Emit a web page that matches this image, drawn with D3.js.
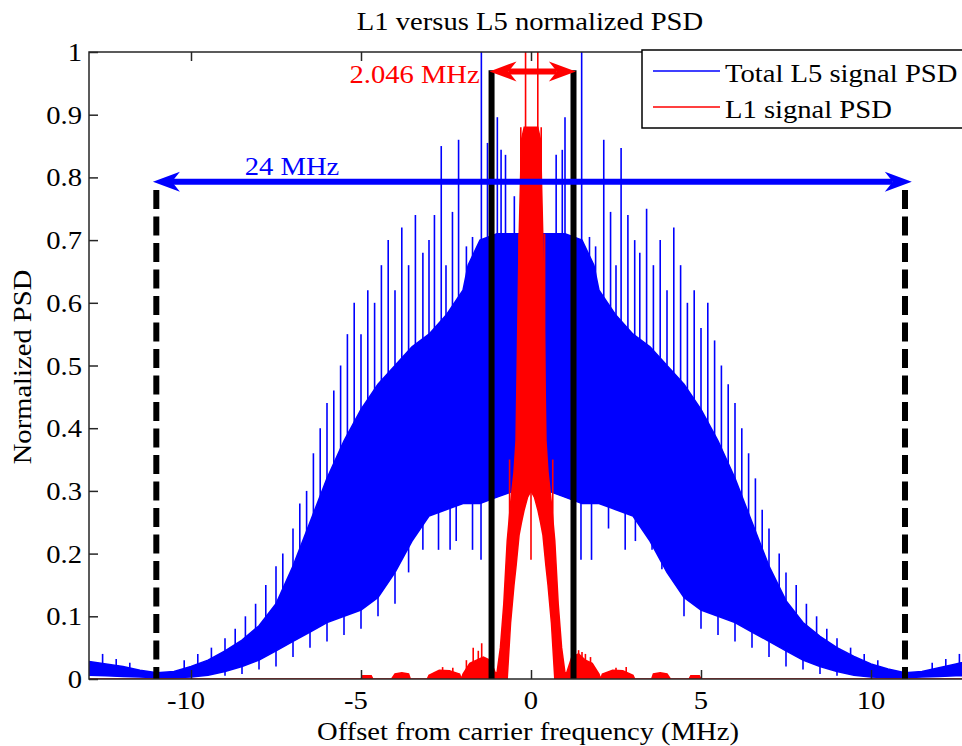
<!DOCTYPE html>
<html>
<head>
<meta charset="utf-8">
<script src="https://cdn.jsdelivr.net/npm/d3@7"></script>
<style>
body { margin: 0; background: #fff; }
text { font-family: "Liberation Serif", "Times New Roman", serif; font-size: 26px; }
</style>
</head>
<body>
<svg id="chart"></svg>
<script>
var xTicks = [-10, -5, 0, 5, 10];
var yTicks = [0, 0.1, 0.2, 0.3, 0.4, 0.5, 0.6, 0.7, 0.8, 0.9, 1];

// total L5 PSD: dense band (lower / upper edge of the solid blue)
var blueFreq  = [-13, -12.5, -12, -11.5, -11, -10.5, -10, -9.5, -9, -8.5, -8, -7.5, -7, -6.5, -6, -5.5, -5, -4.5, -4, -3.5, -3, -2.5, -2, -1.85, -1.5, -1, -0.5, 0,
                 0.5, 1, 1.5, 1.85, 2, 2.5, 3, 3.5, 4, 4.5, 5, 5.5, 6, 6.5, 7, 7.5, 8, 8.5, 9, 9.5, 10, 10.5, 11, 11.5, 12, 12.5, 13];
var blueUpper = [0.028, 0.024, 0.02, 0.014, 0.01, 0.012, 0.02, 0.03, 0.045, 0.062, 0.085, 0.12, 0.18, 0.25, 0.32, 0.38, 0.43, 0.47, 0.5, 0.53, 0.55, 0.58, 0.62, 0.66, 0.7, 0.71, 0.71, 0.71,
                 0.71, 0.71, 0.7, 0.66, 0.62, 0.58, 0.55, 0.53, 0.5, 0.47, 0.43, 0.38, 0.32, 0.25, 0.18, 0.125, 0.09, 0.068, 0.05, 0.036, 0.024, 0.016, 0.01, 0.012, 0.018, 0.024, 0.03];
var blueLower = [0.006, 0.005, 0.004, 0.003, 0.002, 0.002, 0.003, 0.006, 0.012, 0.02, 0.03, 0.045, 0.06, 0.075, 0.09, 0.1, 0.11, 0.13, 0.17, 0.22, 0.26, 0.27, 0.28, 0.28, 0.28, 0.29, 0.3, 0.3,
                 0.3, 0.29, 0.28, 0.28, 0.28, 0.27, 0.26, 0.22, 0.17, 0.13, 0.11, 0.1, 0.09, 0.075, 0.06, 0.045, 0.03, 0.02, 0.012, 0.006, 0.003, 0.002, 0.002, 0.003, 0.004, 0.005, 0.006];

// single spectral lines sticking out of the band (freq, bottom, top)
var blueSpikeFreq = [-12.6, -12.2, -11.8, -10.2, -9.8, -9.4, -9.0, -8.7, -8.4, -8.1, -7.8, -7.5, -7.3, -7.0, -6.8, -6.6, -6.4, -6.2, -6.0, -5.8, -5.6, -5.4, -5.2, -5.0, -4.8, -4.6, -4.4, -4.2, -4.0, -3.8, -3.6, -3.4, -3.18, -3.0, -2.84, -2.64, -2.5, -2.31, -2.13, -1.9, -1.72, -1.46, -1.28, -0.99, -0.88, -0.75, -0.49,
                     -9.0, -8.5, -8.0, -7.5, -7.0, -6.5, -6.0, -5.5, -5.0, -4.5, -4.0, -3.6, -3.18, -2.72, -2.38, -2.2, -1.72, -1.47,
                     0.74, 0.92, 1.0, 1.28, 1.49, 1.72, 1.9, 2.14, 2.34, 2.5, 2.65, 2.85, 3.05, 3.2, 3.4, 3.6, 3.8, 4.0, 4.2, 4.4, 4.6, 4.8, 5.0, 5.2, 5.4, 5.6, 5.8, 6.0, 6.2, 6.4, 6.6, 6.8, 7.0, 7.3, 7.5, 7.8, 8.1, 8.4, 8.7, 9.0, 9.4, 9.8, 10.2, 11.8, 12.2, 12.6,
                     1.47, 1.78, 2.28, 2.77, 3.07, 3.56, 3.85, 4.5, 5.0, 5.5, 6.0, 6.5, 7.0, 7.5, 8.0, 8.5, 9.0];
var blueSpikeLow  = [0.01, 0.008, 0.005, 0.005, 0.01, 0.02, 0.03, 0.04, 0.05, 0.06, 0.08, 0.1, 0.12, 0.15, 0.18, 0.2, 0.25, 0.28, 0.3, 0.33, 0.35, 0.38, 0.4, 0.42, 0.43, 0.45, 0.46, 0.48, 0.5, 0.5, 0.5, 0.52, 0.52, 0.53, 0.55, 0.55, 0.55, 0.55, 0.55, 0.6, 0.6, 0.6, 0.6, 0.6, 0.6, 0.6, 0.6,
                     0.005, 0.008, 0.015, 0.02, 0.035, 0.05, 0.06, 0.07, 0.08, 0.1, 0.12, 0.17, 0.206, 0.206, 0.206, 0.22, 0.206, 0.19,
                     0.6, 0.6, 0.6, 0.6, 0.6, 0.6, 0.6, 0.55, 0.55, 0.55, 0.55, 0.55, 0.53, 0.52, 0.52, 0.5, 0.5, 0.5, 0.48, 0.46, 0.45, 0.43, 0.42, 0.4, 0.38, 0.35, 0.33, 0.3, 0.28, 0.25, 0.2, 0.18, 0.15, 0.12, 0.1, 0.08, 0.06, 0.05, 0.04, 0.03, 0.02, 0.01, 0.005, 0.005, 0.008, 0.01,
                     0.19, 0.19, 0.24, 0.206, 0.22, 0.206, 0.175, 0.1, 0.08, 0.07, 0.06, 0.05, 0.035, 0.02, 0.015, 0.008, 0.005];
var blueSpikeHigh = [0.04, 0.032, 0.026, 0.03, 0.04, 0.05, 0.065, 0.08, 0.1, 0.12, 0.15, 0.18, 0.2, 0.24, 0.28, 0.3, 0.36, 0.4, 0.44, 0.46, 0.5, 0.55, 0.6, 0.55, 0.62, 0.6, 0.66, 0.7, 0.62, 0.72, 0.66, 0.74, 0.68, 0.7, 0.74, 0.85, 0.66, 0.745, 0.86, 0.69, 0.705, 1.0, 0.855, 0.896, 0.844, 0.836, 0.77,
                     0.015, 0.02, 0.035, 0.05, 0.06, 0.08, 0.1, 0.1, 0.12, 0.14, 0.17, 0.22, 0.3, 0.3, 0.3, 0.3, 0.3, 0.3,
                     0.836, 0.844, 0.896, 0.855, 1.0, 0.705, 0.69, 0.86, 0.745, 0.66, 0.847, 0.74, 0.7, 0.68, 0.75, 0.66, 0.7, 0.62, 0.72, 0.66, 0.6, 0.62, 0.56, 0.6, 0.54, 0.5, 0.47, 0.44, 0.4, 0.36, 0.32, 0.27, 0.24, 0.2, 0.17, 0.15, 0.12, 0.1, 0.08, 0.065, 0.05, 0.04, 0.03, 0.026, 0.032, 0.04,
                     0.3, 0.3, 0.3, 0.3, 0.3, 0.3, 0.3, 0.14, 0.12, 0.1, 0.1, 0.08, 0.06, 0.05, 0.035, 0.02, 0.015];

// L1 (C/A) PSD
var redFreq  = [-13, -5.0, -4.95, -4.7, -4.65, -4.1, -4.0, -3.8, -3.6, -3.55, -3.05, -3.0, -2.7, -2.4, -2.1, -2.05, -2.0, -1.8, -1.6, -1.4, -1.2, -1.05, -1.0, -0.9, -0.8, -0.7, -0.6, -0.5, -0.44, -0.35, -0.28, -0.2, -0.1, 0,
                0.1, 0.2, 0.28, 0.35, 0.44, 0.5, 0.6, 0.7, 0.8, 0.9, 1.0, 1.05, 1.2, 1.4, 1.6, 1.8, 2.0, 2.05, 2.1, 2.4, 2.7, 3.0, 3.05, 3.55, 3.6, 3.8, 4.0, 4.1, 4.65, 4.7, 4.95, 5.0, 13];
var redUpper = [0, 0, 0.005, 0.005, 0, 0, 0.008, 0.01, 0.008, 0, 0, 0.006, 0.014, 0.013, 0.008, 0, 0.008, 0.025, 0.03, 0.035, 0.03, 0.01, 0.01, 0.05, 0.12, 0.22, 0.28, 0.33, 0.38, 0.7, 0.86, 0.88, 0.88, 0.88,
                0.88, 0.88, 0.86, 0.7, 0.38, 0.33, 0.28, 0.22, 0.12, 0.05, 0.01, 0.01, 0.035, 0.04, 0.03, 0.025, 0.008, 0, 0.008, 0.014, 0.013, 0.006, 0, 0, 0.008, 0.01, 0.008, 0, 0, 0.005, 0.005, 0, 0];
var redLower = [0, 0, 0, 0, 0, 0, 0, 0, 0, 0, 0, 0, 0, 0, 0, 0, 0, 0, 0, 0, 0, 0, 0, 0, 0, 0, 0.09, 0.15, 0.18, 0.23, 0.25, 0.27, 0.29, 0.3,
                0.29, 0.27, 0.25, 0.23, 0.18, 0.15, 0.09, 0, 0, 0, 0, 0, 0, 0, 0, 0, 0, 0, 0, 0, 0, 0, 0, 0, 0, 0, 0, 0, 0, 0, 0, 0, 0];
var redSpikeFreq = [-2.6, -2.3, -1.9, -1.7, -1.55, -1.45, -0.63, -0.35, -0.3, -0.16, 0, 0.2, 0.3, 0.4, 0.64, 1.4, 1.5, 1.6, 1.75, 2.5, 2.8];
var redSpikeLow  = [0, 0, 0, 0, 0, 0, 0.2, 0.4, 0.4, 0.3, 0.19, 0.3, 0.4, 0.4, 0.2, 0, 0, 0, 0, 0, 0];
var redSpikeHigh = [0.019, 0.018, 0.03, 0.05, 0.045, 0.057, 0.35, 0.71, 0.88, 1.0, 0.3, 1.0, 0.88, 0.71, 0.35, 0.046, 0.043, 0.04, 0.035, 0.018, 0.019];

// annotations (MHz / PSD units)
var bandEdges = [-1.16, 1.25];
var spanEdges = [-11.02, 11.0];
var bandArrow = [-1.22, 1.32], bandArrowY = 0.969, bandTop = 0.971;
var spanArrow = [-11.12, 11.2], spanArrowY = 0.793, spanTop = 0.78;

var svgWidth = 962, svgHeight = 746;
var plotLeft = 89, plotTop = 52, plotRight = 973, plotBottom = 679;
var sx = 1.1; // horizontal stretch of the text in the picture

var svg = d3.select('#chart').attr('width', svgWidth).attr('height', svgHeight);

var x = d3.scaleLinear().domain([-13, 13]).range([plotLeft, plotRight]);
var y = d3.scaleLinear().domain([0, 1]).range([plotBottom, plotTop]);

svg.append('clipPath').attr('id', 'plotclip')
  .append('rect').attr('x', plotLeft).attr('y', plotTop).attr('width', plotRight - plotLeft).attr('height', plotBottom - plotTop);

var plot = svg.append('g').attr('clip-path', 'url(#plotclip)');

function band(freq, lo, hi) {
  return d3.area()
    .x(function(d, i) { return x(freq[i]); })
    .y0(function(d, i) { return y(lo[i]); })
    .y1(function(d, i) { return y(hi[i]); })(freq);
}

function spikes(g, cls, freq, lo, hi, color) {
  g.selectAll('.' + cls).data(freq).enter().append('line')
    .attr('class', cls)
    .attr('x1', function(d) { return x(d); }).attr('x2', function(d) { return x(d); })
    .attr('y1', function(d, i) { return y(lo[i]); })
    .attr('y2', function(d, i) { return y(hi[i]); })
    .attr('stroke', color).attr('stroke-width', 1.6);
}

plot.append('path').attr('d', band(blueFreq, blueLower, blueUpper))
  .attr('fill', '#0000ff').attr('stroke', '#0000ff').attr('stroke-width', 1.5);
spikes(plot, 'bspike', blueSpikeFreq, blueSpikeLow, blueSpikeHigh, '#0000ff');

plot.append('path').attr('d', band(redFreq, redLower, redUpper))
  .attr('fill', '#ff0000').attr('stroke', '#ff0000').attr('stroke-width', 1.5);
spikes(plot, 'rspike', redSpikeFreq, redSpikeLow, redSpikeHigh, '#ff0000');

// black markers
plot.selectAll('.edge').data(bandEdges).enter().append('line')
  .attr('x1', function(d) { return x(d); }).attr('x2', function(d) { return x(d); })
  .attr('y1', y(bandTop)).attr('y2', y(0))
  .attr('stroke', '#000').attr('stroke-width', 6);

plot.selectAll('.span').data(spanEdges).enter().append('line')
  .attr('x1', function(d) { return x(d); }).attr('x2', function(d) { return x(d); })
  .attr('y1', y(spanTop)).attr('y2', y(0))
  .attr('stroke', '#000').attr('stroke-width', 6).attr('stroke-dasharray', '19,7.5');

function doubleArrow(g, x0, x1, yy, color) {
  var L = 27, H = 10, N = 19;
  g.append('line').attr('x1', x0 + N).attr('x2', x1 - N).attr('y1', yy).attr('y2', yy)
    .attr('stroke', color).attr('stroke-width', 6);
  g.append('path').attr('fill', color)
    .attr('d', 'M' + x0 + ',' + yy + 'L' + (x0 + L) + ',' + (yy - H) + 'L' + (x0 + N) + ',' + yy + 'L' + (x0 + L) + ',' + (yy + H) + 'Z');
  g.append('path').attr('fill', color)
    .attr('d', 'M' + x1 + ',' + yy + 'L' + (x1 - L) + ',' + (yy - H) + 'L' + (x1 - N) + ',' + yy + 'L' + (x1 - L) + ',' + (yy + H) + 'Z');
}
doubleArrow(svg, x(spanArrow[0]), x(spanArrow[1]), y(spanArrowY), '#0000ff');
doubleArrow(svg, x(bandArrow[0]), x(bandArrow[1]), y(bandArrowY), '#ff0000');

function label(g, txt, px, py, anchor, color) {
  return g.append('text')
    .attr('transform', 'translate(' + px + ',' + py + ') scale(' + sx + ',1)')
    .attr('text-anchor', anchor || 'start')
    .attr('fill', color || '#000')
    .text(txt);
}
label(svg, '24 MHz', x(-8.42), y(0.804), 'start', '#0000ff');
label(svg, '2.046 MHz', x(-5.34), y(0.95), 'start', '#ff0000');

// axes box with inward ticks (MATLAB style)
var axisColor = '#262626';
svg.append('rect').attr('x', plotLeft).attr('y', plotTop).attr('width', plotRight - plotLeft).attr('height', plotBottom - plotTop)
  .attr('fill', 'none').attr('stroke', axisColor).attr('stroke-width', 1.5);

var xAxis = svg.append('g').attr('transform', 'translate(0,' + plotBottom + ')')
  .call(d3.axisBottom(x).tickValues(xTicks).tickSize(-9).tickFormat(''));
var xAxisTop = svg.append('g').attr('transform', 'translate(0,' + plotTop + ')')
  .call(d3.axisTop(x).tickValues(xTicks).tickSize(-9).tickFormat(''));
var yAxis = svg.append('g').attr('transform', 'translate(' + plotLeft + ',0)')
  .call(d3.axisLeft(y).tickValues(yTicks).tickSize(-9).tickFormat(''));
[xAxis, xAxisTop, yAxis].forEach(function(a) {
  a.select('.domain').remove();
  a.selectAll('line').attr('stroke', axisColor).attr('stroke-width', 1.5);
  a.selectAll('text').remove();
});

xTicks.forEach(function(t) {
  label(svg, String(t), x(t) - (t < 0 ? 5 : 0), 709, 'middle', '#000');
});
yTicks.forEach(function(t) {
  label(svg, String(t), 82, y(t) + 9, 'end', '#000');
});

label(svg, 'L1 versus L5 normalized PSD', 530, 30, 'middle', '#000');
label(svg, 'Offset from carrier frequency (MHz)', 528, 740, 'middle', '#000');
svg.append('text')
  .attr('transform', 'translate(31,367) rotate(-90) scale(' + sx + ',1)')
  .attr('text-anchor', 'middle')
  .text('Normalized PSD');

// legend
var legend = svg.append('g');
legend.append('rect').attr('x', 642).attr('y', 50).attr('width', 400).attr('height', 78)
  .attr('fill', '#fff').attr('stroke', '#000').attr('stroke-width', 1.5);
legend.append('line').attr('x1', 653).attr('x2', 720).attr('y1', 71).attr('y2', 71).attr('stroke', '#0000ff').attr('stroke-width', 1.5);
legend.append('line').attr('x1', 653).attr('x2', 720).attr('y1', 107).attr('y2', 107).attr('stroke', '#ff0000').attr('stroke-width', 1.5);
label(legend, 'Total L5 signal PSD', 725, 82, 'start', '#000');
label(legend, 'L1 signal PSD', 725, 118, 'start', '#000');
</script>
</body>
</html>
